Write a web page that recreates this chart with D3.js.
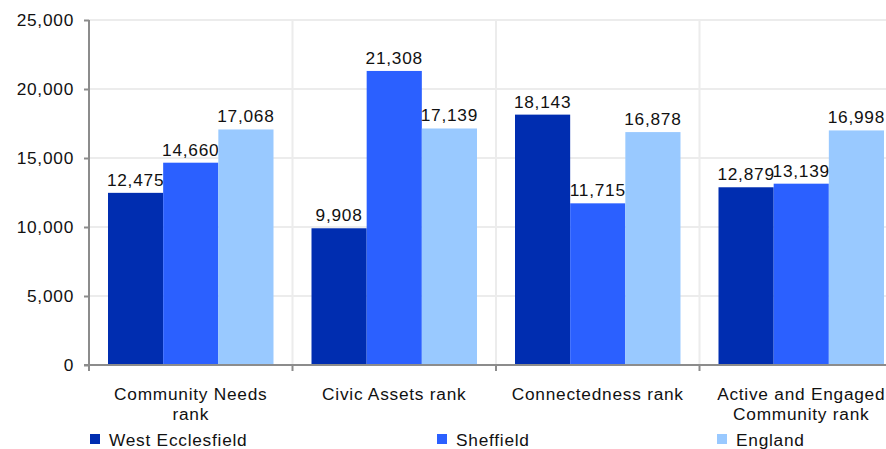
<!DOCTYPE html>
<html>
<head>
<meta charset="utf-8">
<script src="https://cdn.jsdelivr.net/npm/d3@7"></script>
<style>
  body { margin: 0; background: #fff; }
  text { font-family: "Liberation Sans", Arial, sans-serif; fill: #111; letter-spacing: 0.75px; }
</style>
</head>
<body>
<script>
var categories = [["Community Needs", "rank"], ["Civic Assets rank"], ["Connectedness rank"], ["Active and Engaged", "Community rank"]];
var seriesNames = ["West Ecclesfield", "Sheffield", "England"];
var westEcclesfield = [12475, 9908, 18143, 12879];
var sheffield = [14660, 21308, 11715, 13139];
var england = [17068, 17139, 16878, 16998];
var yTicks = [0, 5000, 10000, 15000, 20000, 25000];
var colors = ["#002db0", "#2b60ff", "#99c9ff"];

var series = [westEcclesfield, sheffield, england];

var W = 886, H = 449;
var margin = {top: 20, left: 89, bottom: 84};
var plotBottom = H - margin.bottom; // 365
var fs = '17.3px';

var svg = d3.select('body').append('svg')
  .attr('width', W)
  .attr('height', H);

var x = d3.scaleBand()
  .domain(d3.range(categories.length))
  .range([margin.left, margin.left + 4 * 203.5]);

var xs = d3.scaleBand()
  .domain(d3.range(series.length))
  .range([19, x.bandwidth() - 19]);

var y = d3.scaleLinear().domain([0, 25000]).range([plotBottom, margin.top]);

// gridlines
svg.append('g').selectAll('line.h')
  .data(yTicks.slice(1))
  .enter().append('line')
  .attr('x1', margin.left).attr('x2', W)
  .attr('y1', function(d) { return y(d); })
  .attr('y2', function(d) { return y(d); })
  .style('stroke', '#ececec').style('stroke-width', 2);

svg.append('g').selectAll('line.v')
  .data(d3.range(1, categories.length + 1))
  .enter().append('line')
  .attr('x1', function(i) { return x(0) + i * x.step(); })
  .attr('x2', function(i) { return x(0) + i * x.step(); })
  .attr('y1', margin.top).attr('y2', plotBottom)
  .style('stroke', '#ececec').style('stroke-width', 2);

// bars
series.forEach(function(vals, s) {
  svg.append('g').selectAll('rect')
    .data(vals)
    .enter().append('rect')
    .attr('x', function(d, i) { return x(i) + xs(s); })
    .attr('y', function(d) { return y(d); })
    .attr('width', xs.bandwidth())
    .attr('height', function(d) { return plotBottom - y(d); })
    .style('fill', colors[s]);

  svg.append('g').selectAll('text')
    .data(vals)
    .enter().append('text')
    .attr('x', function(d, i) { return x(i) + xs(s) + xs.bandwidth() / 2; })
    .attr('y', function(d) { return y(d) - 7; })
    .attr('text-anchor', 'middle')
    .style('font-size', fs)
    .text(function(d) { return d3.format(',')(d); });
});

// y axis
var yAxis = svg.append('g')
  .attr('transform', 'translate(' + margin.left + ',0)')
  .call(d3.axisLeft(y).tickValues(yTicks).tickFormat(d3.format(',')).tickSize(5).tickPadding(10));
yAxis.select('.domain').attr('stroke', '#8c8c8c').attr('stroke-width', 2).attr('d', 'M0,' + margin.top + 'V' + plotBottom);
yAxis.selectAll('.tick line').attr('stroke', '#8c8c8c').attr('stroke-width', 2);
yAxis.selectAll('.tick text').style('font-size', fs).attr('fill', '#111');

// x axis
svg.append('line')
  .attr('x1', margin.left - 5).attr('x2', W)
  .attr('y1', plotBottom).attr('y2', plotBottom)
  .style('stroke', '#8c8c8c').style('stroke-width', 2);
svg.append('g').selectAll('line')
  .data(d3.range(0, categories.length + 1))
  .enter().append('line')
  .attr('x1', function(i) { return x(0) + i * x.step(); })
  .attr('x2', function(i) { return x(0) + i * x.step(); })
  .attr('y1', plotBottom).attr('y2', plotBottom + 6)
  .style('stroke', '#8c8c8c').style('stroke-width', 2);

var catLabels = svg.append('g').selectAll('text')
  .data(categories)
  .enter().append('text')
  .attr('x', function(d, i) { return x(i) + x.bandwidth() / 2; })
  .attr('y', plotBottom + 35)
  .attr('text-anchor', 'middle')
  .style('font-size', fs);
catLabels.selectAll('tspan')
  .data(function(d) { return d; })
  .enter().append('tspan')
  .attr('x', function() { return this.parentNode.getAttribute('x'); })
  .attr('dy', function(d, j) { return j === 0 ? 0 : 20; })
  .text(function(d) { return d; });

// legend
var legendX = [90, 437, 717];
var legend = svg.append('g').selectAll('g')
  .data(seriesNames)
  .enter().append('g')
  .attr('transform', function(d, i) { return 'translate(' + legendX[i] + ',' + 434 + ')'; });
legend.append('rect')
  .attr('width', 10).attr('height', 10)
  .style('fill', function(d, i) { return colors[i]; });
legend.append('text')
  .attr('x', 19).attr('y', 12)
  .style('font-size', fs)
  .text(function(d) { return d; });
</script>
</body>
</html>
